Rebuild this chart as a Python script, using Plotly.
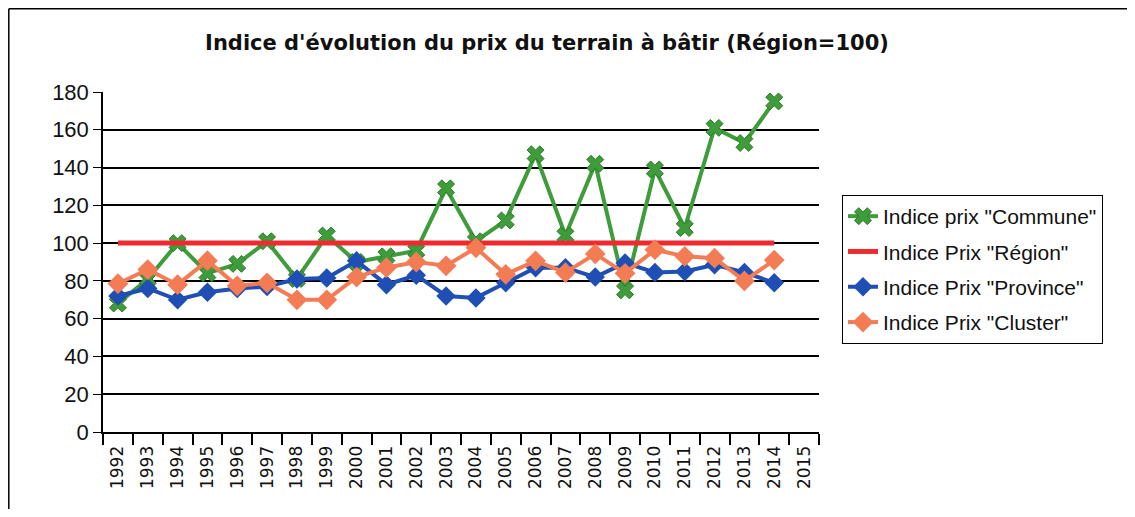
import plotly.graph_objects as go

years = [str(y) for y in range(1992, 2016)]
commune = [68, 81, 100, 84, 89, 101, 81, 104, 90, 93, 96, 129, 101, 112, 147, 104, 142, 75, 139, 108, 161, 153, 175, None]
region = [100] * 23 + [None]
province = [72, 76, 70, 74, 76, 77, 81, 81.5, 90.6, 78, 83, 72, 71, 79, 87, 87, 82, 89.5, 84.5, 85, 88.5, 84.5, 79, None]
cluster = [78.5, 86, 78, 90.7, 77.4, 79, 70, 70, 82, 87, 90, 88, 97.5, 83.5, 90.6, 84.4, 94.3, 84, 96.5, 93, 92, 80, 91, None]
names = ['Indice prix "Commune"', 'Indice Prix "Région"', 'Indice Prix "Province"', 'Indice Prix "Cluster"']

GREEN = "#3e9c3a"
RED = "#ec2a30"
BLUE = "#1f4fb4"
ORANGE = "#f47c55"

fig = go.Figure()
fig.add_trace(go.Scatter(x=years, y=commune, name=names[0], mode="lines+markers", legendgroup="a",
                         line=dict(color=GREEN, width=4),
                         marker=dict(symbol="x", size=15, color=GREEN, line=dict(color="#2d7a2a", width=1))))
fig.add_trace(go.Scatter(x=years, y=region, name=names[1], mode="lines", legendgroup="b",
                         line=dict(color=RED, width=5)))
fig.add_trace(go.Scatter(x=years, y=province, name=names[2], mode="lines+markers", legendgroup="c",
                         line=dict(color=BLUE, width=4),
                         marker=dict(symbol="diamond", size=15, color=BLUE)))
fig.add_trace(go.Scatter(x=years, y=cluster, name=names[3], mode="lines+markers", legendgroup="d",
                         line=dict(color=ORANGE, width=4),
                         marker=dict(symbol="diamond", size=16, color=ORANGE)))

OFF = 8  # page body margin
W, H = 1135 - 2 * OFF, 517 - 2 * OFF   # keep the page free of scrollbars
L = 103 - OFF
T = 92 - OFF
R = W - (819 - OFF)
B = H - (432 - OFF)
pw = W - L - R
ph = H - T - B

def px(x):
    return (x - OFF - L) / pw

def py(y):
    return (H - B - (y - OFF)) / ph

fx0 = (0.8 - L) / pw          # figure left edge (paper coords)
fx1 = (W - L) / pw            # figure right edge
fy0 = (-B) / ph               # figure bottom edge
fy1 = (H - B - 0.8) / ph      # figure top edge

fig.update_layout(
    width=W, height=H,
    margin=dict(l=L, r=R, t=T, b=B),
    paper_bgcolor="white", plot_bgcolor="white",
    title=dict(text="<b>Indice d'évolution du prix du terrain à bâtir (Région=100)</b>",
               x=(547 - OFF) / W, xref="container", xanchor="center",
               y=1 - (43 - OFF) / H, yref="container", yanchor="middle",
               font=dict(family="DejaVu Sans", size=21, color="#111")),
    showlegend=True,
    legend=dict(x=px(842), y=py(195), xanchor="left", yanchor="top",
                bordercolor="black", borderwidth=1, bgcolor="white",
                font=dict(family="Liberation Sans", size=21, color="#111"),
                tracegroupgap=5, itemwidth=30),
    xaxis=dict(type="category", range=[-0.5, 23.5], showgrid=False,
               showline=True, linecolor="black", linewidth=2,
               ticks="outside", tickson="boundaries", ticklen=11, tickcolor="black", tickwidth=1.5,
               ticklabelstandoff=5,
               tickangle=-90, tickfont=dict(family="DejaVu Sans", size=17, color="#111")),
    yaxis=dict(range=[0, 180], dtick=20, showgrid=True, gridcolor="black", gridwidth=1.5,
               zeroline=False, showline=True, linecolor="black", linewidth=1.5,
               ticks="outside", ticklen=8, tickcolor="black",
               tickfont=dict(family="Liberation Sans", size=22, color="#111")),
    shapes=[
        dict(type="line", xref="paper", yref="paper", x0=fx0, x1=fx1, y0=fy1, y1=fy1,
             line=dict(color="black", width=1.5), layer="below"),
        dict(type="line", xref="paper", yref="paper", x0=fx0, x1=fx0, y0=fy0, y1=fy1,
             line=dict(color="black", width=1.5), layer="below"),
    ],
)

fig.write_html("out.html", config={"displayModeBar": False})
